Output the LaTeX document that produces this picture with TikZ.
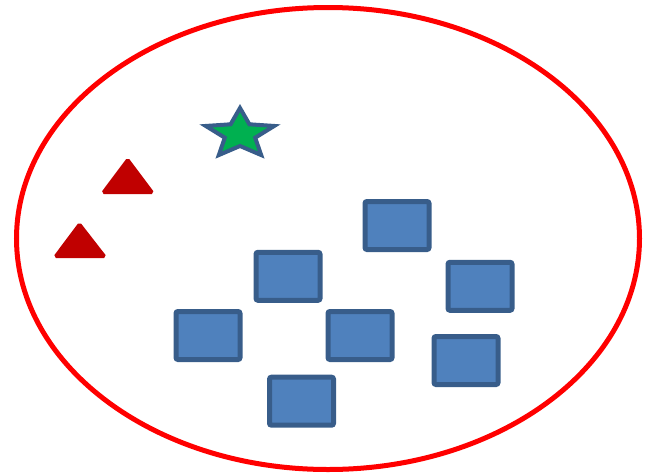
\documentclass[tikz,border=0pt]{standalone}
\usetikzlibrary{positioning}

\definecolor{boxfill}{HTML}{4F81BD}
\definecolor{boxline}{HTML}{385D8A}
\definecolor{trired}{HTML}{C00000}
\definecolor{stargreen}{HTML}{00B050}

\begin{document}
\begin{tikzpicture}[x=1pt,y=-1pt,
  box/.style={draw=boxline,fill=boxfill,line width=5pt,rounded corners=2pt,
    minimum width=64pt,minimum height=48pt,inner sep=0pt},
  tri/.style={draw=trired,fill=trired,line width=3pt,rounded corners=1.5pt},
  starshape/.style={draw=boxline,fill=stargreen,line width=4pt}]
  \useasboundingbox (0,0) rectangle (645,474);
  % Outer set
  \draw[red,line width=5pt] (328,238.5) ellipse [x radius=311.5,y radius=231];
  % Squares
  \foreach \n/\x/\y in {1/397/225.5, 2/288/276.3, 3/480/286.3, 4/208/335.5,
                        5/360/335.5, 6/466/360.5, 7/301.5/401.2} {
    \node[box] (b\n) at (\x,\y) {};
  }
  % Triangles
  \draw[tri] (127.7,159.5) -- (152.5,192.5) -- (103,192.5) -- cycle;
  \draw[tri] (79.5,224) -- (104.8,256.5) -- (55.2,256.5) -- cycle;
  % Star
  \begin{scope}[shift={(240,134)},yscale=-1]
    \draw[starshape] (90:36 and 26) -- (54:16 and 12) -- (18:36 and 26)
      -- (-18:16 and 12) -- (-54:36 and 26) -- (-90:16 and 12)
      -- (-126:36 and 26) -- (-162:16 and 12) -- (162:36 and 26)
      -- (126:16 and 12) -- cycle;
  \end{scope}
\end{tikzpicture}
\end{document}
